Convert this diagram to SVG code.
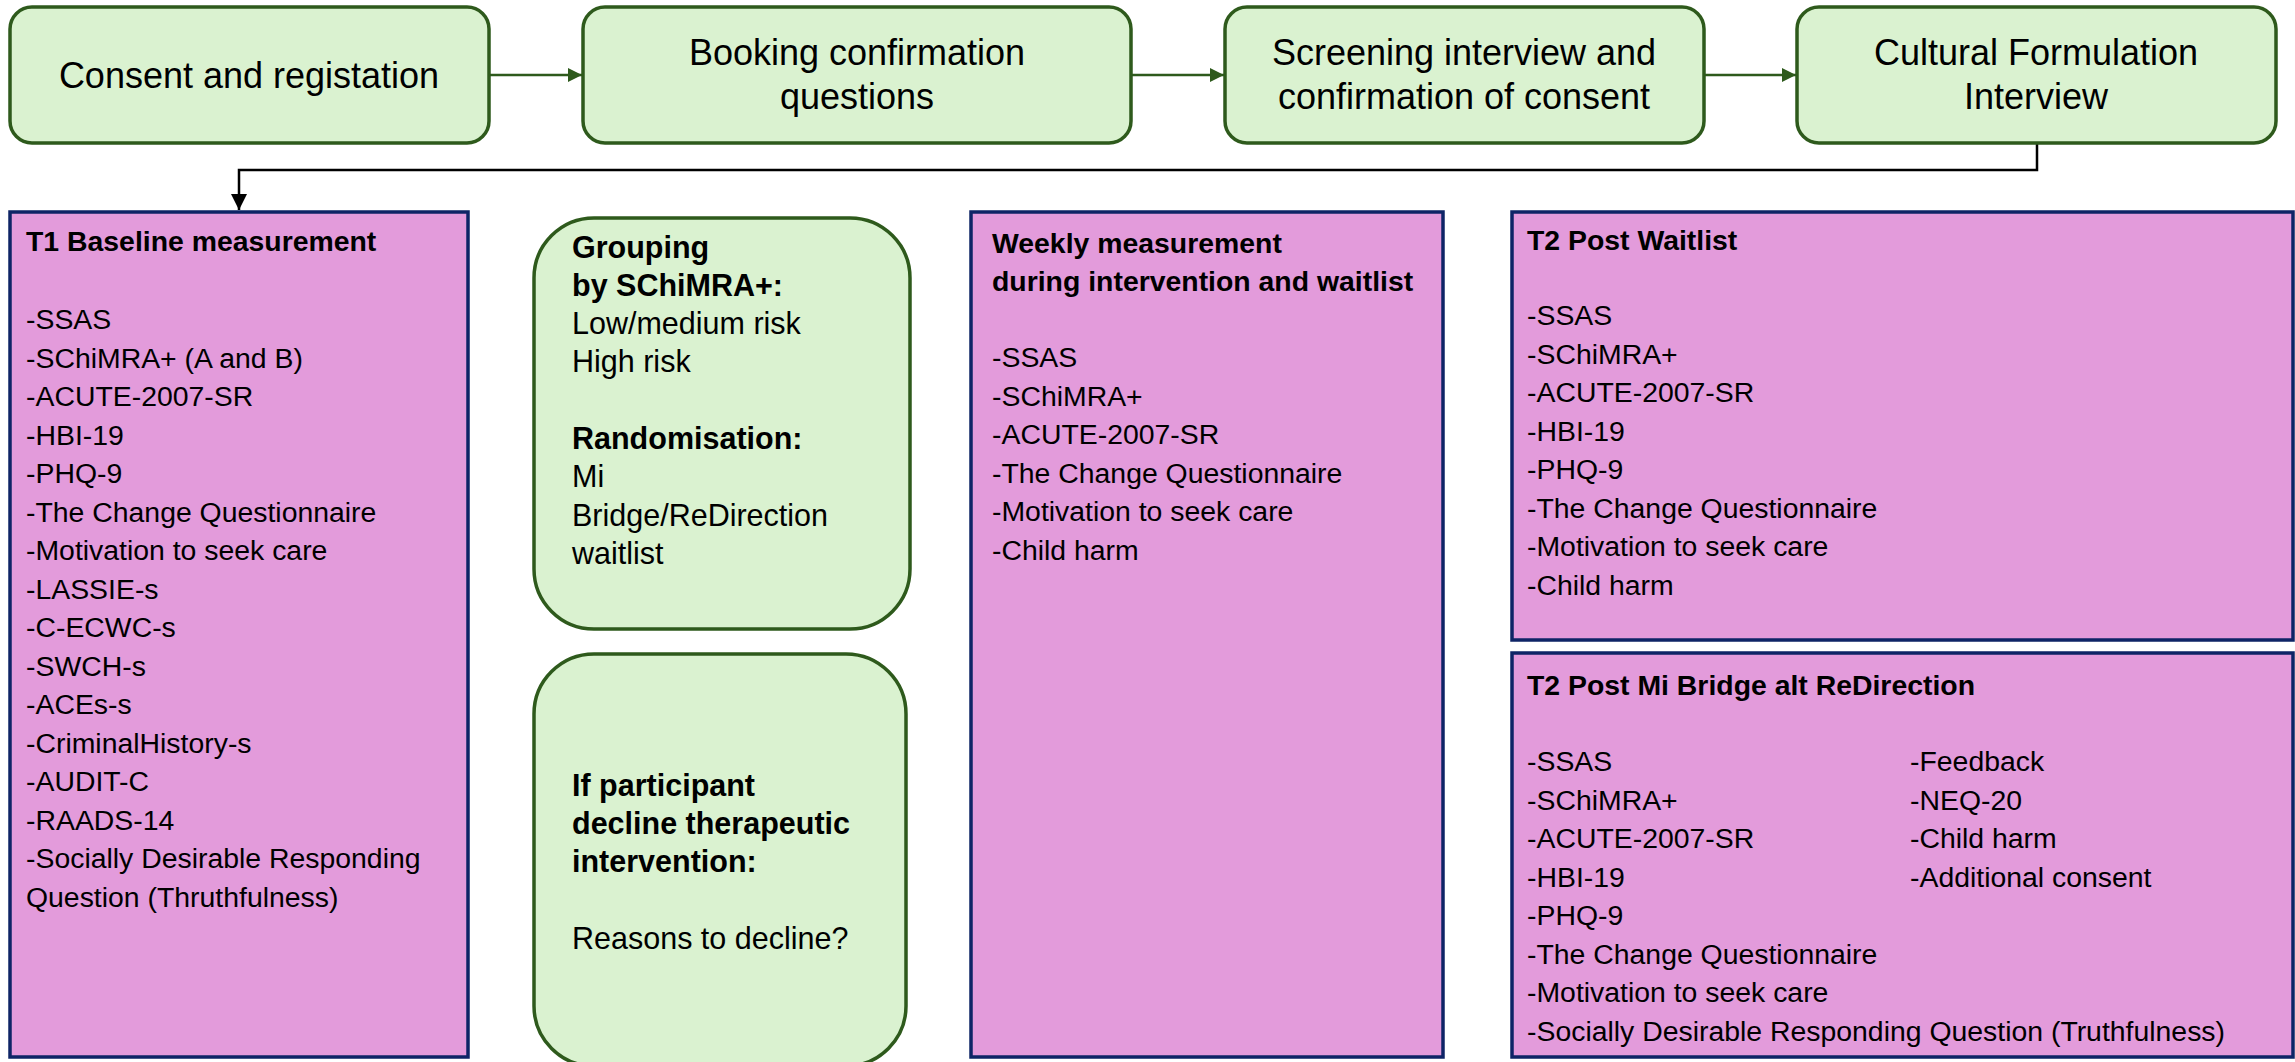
<svg xmlns="http://www.w3.org/2000/svg" width="2295" height="1062" viewBox="0 0 2295 1062">
<defs>
<style>
.step{fill:#daf2d0;stroke:#2e5a1c;stroke-width:3.5}
.meas{fill:#e39bdb;stroke:#0e2466;stroke-width:3.5}
.t{font-family:"Liberation Sans",Arial,sans-serif;fill:#000}
.top{font-size:36px;text-anchor:middle}
.m{font-size:28.4px}
.g{font-size:30.5px}
.b{font-weight:bold}
.conn{fill:none;stroke-width:2.5}
</style>
<marker id="ag" viewBox="0 0 10 10" refX="10" refY="5" markerWidth="14" markerHeight="14" markerUnits="userSpaceOnUse" orient="auto"><path d="M0,0 L10,5 L0,10 z" fill="#2e5a1c"/></marker>
<marker id="ak" viewBox="0 0 10 10" refX="10" refY="5" markerWidth="16" markerHeight="16" markerUnits="userSpaceOnUse" orient="auto"><path d="M0,0 L10,5 L0,10 z" fill="#000"/></marker>
</defs>
<rect width="2295" height="1062" fill="#fff"/>

<g id="connectors">
<line class="conn" x1="489" y1="75" x2="582" y2="75" stroke="#2e5a1c" marker-end="url(#ag)"/>
<line class="conn" x1="1131" y1="75" x2="1224" y2="75" stroke="#2e5a1c" marker-end="url(#ag)"/>
<line class="conn" x1="1704" y1="75" x2="1796" y2="75" stroke="#2e5a1c" marker-end="url(#ag)"/>
<polyline class="conn" points="2037,143 2037,170 239,170 239,210" stroke="#000" stroke-width="2.2" marker-end="url(#ak)"/>
</g>

<g id="consent">
<rect class="step" x="10" y="7" width="479" height="136" rx="22"/>
<text class="t top" x="249" y="88">Consent and registation</text>
</g>
<g id="booking">
<rect class="step" x="583" y="7" width="548" height="136" rx="22"/>
<text class="t top" x="857" y="65">Booking confirmation</text>
<text class="t top" x="857" y="109">questions</text>
</g>
<g id="screening">
<rect class="step" x="1225" y="7" width="479" height="136" rx="22"/>
<text class="t top" x="1464" y="65">Screening interview and</text>
<text class="t top" x="1464" y="109">confirmation of consent</text>
</g>
<g id="cfi">
<rect class="step" x="1797" y="7" width="479" height="136" rx="22"/>
<text class="t top" x="2036" y="65">Cultural Formulation</text>
<text class="t top" x="2036" y="109">Interview</text>
</g>

<g id="t1">
<rect class="meas" x="10" y="212" width="458" height="845"/>
<text class="t m b" x="26" y="251">T1 Baseline measurement</text>
<text class="t m" x="26" y="329">-SSAS</text>
<text class="t m" x="26" y="367.5">-SChiMRA+ (A and B)</text>
<text class="t m" x="26" y="406">-ACUTE-2007-SR</text>
<text class="t m" x="26" y="444.5">-HBI-19</text>
<text class="t m" x="26" y="483">-PHQ-9</text>
<text class="t m" x="26" y="521.5">-The Change Questionnaire</text>
<text class="t m" x="26" y="560">-Motivation to seek care</text>
<text class="t m" x="26" y="598.5">-LASSIE-s</text>
<text class="t m" x="26" y="637">-C-ECWC-s</text>
<text class="t m" x="26" y="675.5">-SWCH-s</text>
<text class="t m" x="26" y="714">-ACEs-s</text>
<text class="t m" x="26" y="752.5">-CriminalHistory-s</text>
<text class="t m" x="26" y="791">-AUDIT-C</text>
<text class="t m" x="26" y="829.5">-RAADS-14</text>
<text class="t m" x="26" y="868">-Socially Desirable Responding</text>
<text class="t m" x="26" y="906.5">Question (Thruthfulness)</text>
</g>

<g id="grouping">
<rect class="step" x="534" y="218" width="376" height="411" rx="60"/>
<text class="t g b" x="572" y="258">Grouping</text>
<text class="t g b" x="572" y="296">by SChiMRA+:</text>
<text class="t g" x="572" y="334">Low/medium risk</text>
<text class="t g" x="572" y="372">High risk</text>
<text class="t g b" x="572" y="449">Randomisation:</text>
<text class="t g" x="572" y="487">Mi</text>
<text class="t g" x="572" y="526">Bridge/ReDirection</text>
<text class="t g" x="572" y="564">waitlist</text>
</g>

<g id="decline">
<rect class="step" x="534" y="654" width="372" height="412" rx="60"/>
<text class="t g b" x="572" y="796">If participant</text>
<text class="t g b" x="572" y="834">decline therapeutic</text>
<text class="t g b" x="572" y="872">intervention:</text>
<text class="t g" x="572" y="949">Reasons to decline?</text>
</g>

<g id="weekly">
<rect class="meas" x="971" y="212" width="472" height="845"/>
<text class="t m b" x="992" y="253">Weekly measurement</text>
<text class="t m b" x="992" y="291">during intervention and waitlist</text>
<text class="t m" x="992" y="367">-SSAS</text>
<text class="t m" x="992" y="405.5">-SChiMRA+</text>
<text class="t m" x="992" y="444">-ACUTE-2007-SR</text>
<text class="t m" x="992" y="482.5">-The Change Questionnaire</text>
<text class="t m" x="992" y="521">-Motivation to seek care</text>
<text class="t m" x="992" y="559.5">-Child harm</text>
</g>

<g id="t2wait">
<rect class="meas" x="1512" y="212" width="781" height="428"/>
<text class="t m b" x="1527" y="250">T2 Post Waitlist</text>
<text class="t m" x="1527" y="325">-SSAS</text>
<text class="t m" x="1527" y="363.5">-SChiMRA+</text>
<text class="t m" x="1527" y="402">-ACUTE-2007-SR</text>
<text class="t m" x="1527" y="440.5">-HBI-19</text>
<text class="t m" x="1527" y="479">-PHQ-9</text>
<text class="t m" x="1527" y="517.5">-The Change Questionnaire</text>
<text class="t m" x="1527" y="556">-Motivation to seek care</text>
<text class="t m" x="1527" y="594.5">-Child harm</text>
</g>

<g id="t2mi">
<rect class="meas" x="1512" y="653" width="781" height="404"/>
<text class="t m b" x="1527" y="695">T2 Post Mi Bridge alt ReDirection</text>
<text class="t m" x="1527" y="771">-SSAS</text>
<text class="t m" x="1527" y="809.5">-SChiMRA+</text>
<text class="t m" x="1527" y="848">-ACUTE-2007-SR</text>
<text class="t m" x="1527" y="886.5">-HBI-19</text>
<text class="t m" x="1527" y="925">-PHQ-9</text>
<text class="t m" x="1527" y="963.5">-The Change Questionnaire</text>
<text class="t m" x="1527" y="1002">-Motivation to seek care</text>
<text class="t m" x="1527" y="1040.5">-Socially Desirable Responding Question (Truthfulness)</text>
<text class="t m" x="1910" y="771">-Feedback</text>
<text class="t m" x="1910" y="809.5">-NEQ-20</text>
<text class="t m" x="1910" y="848">-Child harm</text>
<text class="t m" x="1910" y="886.5">-Additional consent</text>
</g>
</svg>
